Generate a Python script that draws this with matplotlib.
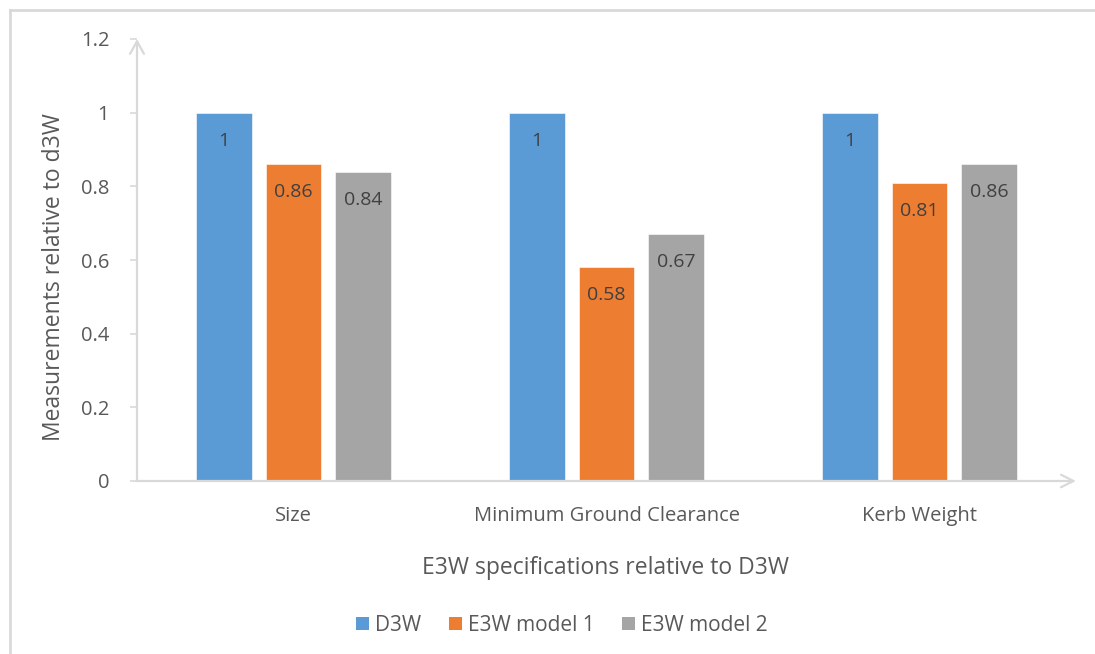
import matplotlib
matplotlib.use("Agg")
import matplotlib.pyplot as plt
from matplotlib.lines import Line2D
from matplotlib.patches import Patch
import numpy as np

plt.rcParams['font.family'] = ['Open Sans', 'DejaVu Sans']

categories = ["Size", "Minimum Ground Clearance", "Kerb Weight"]
series_names = ["D3W", "E3W model 1", "E3W model 2"]
d3w = [1, 1, 1]
e3w_model1 = [0.86, 0.58, 0.81]
e3w_model2 = [0.84, 0.67, 0.86]
y_ticks = [0, 0.2, 0.4, 0.6, 0.8, 1, 1.2]
y_tick_labels = ["0", "0.2", "0.4", "0.6", "0.8", "1", "1.2"]

colors = ["#5B9BD5", "#ED7D31", "#A5A5A5"]
text_dark = "#404040"
text_grey = "#595959"
axis_grey = "#D9D9D9"

W, H = 1095, 654
fig = plt.figure(figsize=(W / 100, H / 100), dpi=100)

# outer chart frame (left and top edges visible)
fig.add_artist(Line2D([10 / W, 10 / W], [0, 1 - 10 / H], transform=fig.transFigure,
                      color=axis_grey, lw=2))
fig.add_artist(Line2D([10 / W, 1], [1 - 10 / H, 1 - 10 / H], transform=fig.transFigure,
                      color=axis_grey, lw=2))

ax_left, ax_right, ax_bottom, ax_top = 137, 1076, 481, 39
ax = fig.add_axes([ax_left / W, 1 - ax_bottom / H, (ax_right - ax_left) / W,
                   (ax_bottom - ax_top) / H])
ax.set_xlim(-0.5, 2.5)
ax.set_ylim(0, 1.2)

x = np.arange(len(categories))
bar_w = 0.176
step = 0.222
all_series = [d3w, e3w_model1, e3w_model2]
for i, (vals, c) in enumerate(zip(all_series, colors)):
    pos = x + (i - 1) * step
    bars = ax.bar(pos, vals, width=bar_w, color=c, edgecolor="white", linewidth=0.4,
                  label=series_names[i], zorder=2)
    for b, v in zip(bars, vals):
        ax.annotate(f"{v:g}", (b.get_x() + b.get_width() / 2, v),
                    xytext=(0, -28), textcoords="offset pixels",
                    ha="center", va="center", fontsize=14, color=text_dark, zorder=3)

for s in ["top", "right", "left", "bottom"]:
    ax.spines[s].set_visible(False)

# axis lines with open arrowheads
ax.annotate("", xy=(0, 1), xytext=(0, 0), xycoords="axes fraction",
            arrowprops=dict(arrowstyle="->,head_length=0.9,head_width=0.5",
                            color=axis_grey, lw=1.6, shrinkA=0, shrinkB=0))
ax.annotate("", xy=(1.0, 0), xytext=(0, 0), xycoords="axes fraction",
            arrowprops=dict(arrowstyle="->,head_length=0.9,head_width=0.45",
                            color=axis_grey, lw=1.6, shrinkA=0, shrinkB=0))

ax.set_yticks(y_ticks)
ax.set_yticklabels(y_tick_labels)
ax.tick_params(axis="y", length=5, width=1.2, color=axis_grey, labelcolor=text_grey,
               labelsize=14.5, pad=15)
ax.set_xticks(x)
ax.set_xticklabels(categories)
ax.tick_params(axis="x", length=0, labelcolor=text_grey, labelsize=14.5, pad=18)

# axis titles, placed by their baselines
ax.set_ylabel("Measurements relative to d3W", fontsize=16.5, color=text_grey)
ax.yaxis.label.set_va("baseline")
ax.yaxis.set_label_coords((60 - ax_left) / (ax_right - ax_left),
                          (ax_bottom - 277) / (ax_bottom - ax_top))
ax.set_xlabel("E3W specifications relative to D3W", fontsize=16.5, color=text_grey)
ax.xaxis.label.set_va("baseline")
ax.xaxis.set_label_coords((606 - ax_left) / (ax_right - ax_left),
                          (ax_bottom - 574) / (ax_bottom - ax_top))

handles = [Patch(facecolor=c, edgecolor="none") for c in colors]
fig.legend(handles, series_names, loc="center", bbox_to_anchor=(562 / W, 1 - 625.5 / H),
           ncol=3, frameon=False, fontsize=15, labelcolor=text_grey, borderpad=0,
           handlelength=0.63, handleheight=0.63, handletextpad=0.3, columnspacing=1.3)

fig.savefig("out.png", dpi=100)
